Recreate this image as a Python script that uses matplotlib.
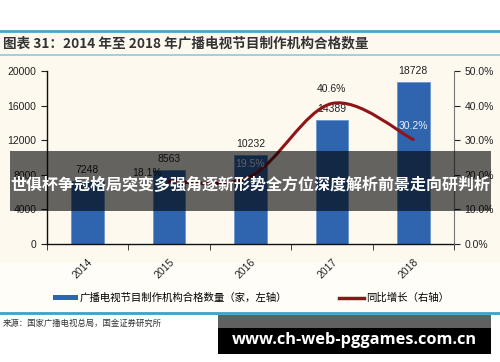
import matplotlib.pyplot as plt
from matplotlib.patches import Rectangle, Patch
from matplotlib.lines import Line2D
from matplotlib.path import Path
from matplotlib.patches import PathPatch

plt.rcParams['font.family'] = ['Liberation Sans', 'Noto Sans CJK SC', 'DejaVu Sans']

years = ['2014', '2015', '2016', '2017', '2018']
counts = [7248, 8563, 10232, 14389, 18728]
growth_years = ['2015', '2016', '2017', '2018']
growth = [18.1, 19.5, 40.6, 30.2]
left_ticks = [0, 4000, 8000, 12000, 16000, 20000]
right_ticks = [0, 10, 20, 30, 40, 50]

title_text = '图表 31：2014 年至 2018 年广播电视节目制作机构合格数量'
bar_name = '广播电视节目制作机构合格数量（家，左轴）'
line_name = '同比增长（右轴）'
source_text = '来源：国家广播电视总局，国金证券研究所'
banner_text = '世俱杯争冠格局突变多强角逐新形势全方位深度解析前景走向研判析'
mark_text = 'www.ch-web-pggames.com.cn'

W, H = 500, 362
cream = '#fdf9ef'
bar_blue = '#2f64ae'
red = '#8e1418'

fig = plt.figure(figsize=(5, 3.62), dpi=100, facecolor='white')

def fy(py):
    return 1 - py / H

# background and header/footer bands
fig.patches.append(Rectangle((0, fy(313)), 1, fy(31) - fy(313), transform=fig.transFigure,
                             facecolor=cream, edgecolor='none', zorder=-5))
fig.patches.append(Rectangle((0, fy(313)), 1, 50 / H, transform=fig.transFigure,
                             facecolor='#fffdf8', edgecolor='none', zorder=-5))
for py, lw, c in [(31, 2.0, '#4aa6cc'), (54.5, 1.2, '#8ccbe0'), (313, 2.0, '#3f9fcf')]:
    fig.add_artist(Line2D([0, 1], [fy(py), fy(py)], transform=fig.transFigure,
                          color=c, linewidth=lw, zorder=1))

fig.text(3 / W, fy(43), title_text, fontsize=9.8, fontweight='bold', color='#333333',
         family=['Noto Sans CJK SC', 'DejaVu Sans'], va='center', ha='left')
fig.text(3 / W, fy(323), source_text, fontsize=6, color='#333333',
         family=['Noto Sans CJK SC', 'DejaVu Sans'], va='center', ha='left')

ax = fig.add_axes([46.7 / W, fy(244), (454 - 46.7) / W, (244 - 71) / H])
ax.set_facecolor('none')
x = list(range(len(years)))
bars = ax.bar(x, counts, width=0.4, color=bar_blue, edgecolor='#6b95cf', linewidth=0.6, zorder=2)
ax.set_xlim(-0.5, len(years) - 0.5)
ax.set_ylim(0, 20000)
ax.set_yticks(left_ticks)
ax.set_yticklabels([str(t) for t in left_ticks])
ax.set_xticks(x)
ax.set_xticklabels(years, rotation=45, ha='right', rotation_mode='anchor')
ax.set_xticks([i - 0.5 for i in range(len(years) + 1)], minor=True)
ax.tick_params(axis='x', which='major', length=0, pad=9, labelsize=7.5, colors='#222222')
ax.tick_params(axis='x', which='minor', length=4, direction='out', color='#222222')
ax.tick_params(axis='y', length=4, labelsize=7.5, colors='#222222')
ax.spines['top'].set_visible(False)
ax.spines['right'].set_visible(False)
for s in ['left', 'bottom']:
    ax.spines[s].set_color('#111111')
    ax.spines[s].set_linewidth(1.0)

for xi, v in zip(x, counts):
    ax.annotate(str(v), (xi, v), xytext=(0, 11), textcoords='offset pixels',
                ha='center', va='center', fontsize=7.5, color='#222222')

ax2 = ax.twinx()
ax2.set_ylim(0, 50)
ax2.set_yticks(right_ticks)
ax2.set_yticklabels(['%.1f%%' % t for t in right_ticks])
ax2.tick_params(axis='y', length=4, labelsize=7.5, colors='#222222')
for s in ['top', 'left', 'bottom']:
    ax2.spines[s].set_visible(False)
ax2.spines['right'].set_color('#777777')

# smoothed growth line (Bezier through the data points)
gx = [years.index(y) for y in growth_years]
pts = list(zip(gx, growth))
verts = [pts[0]]
codes = [Path.MOVETO]
for i in range(len(pts) - 1):
    p0 = pts[i - 1] if i > 0 else pts[i]
    p1 = pts[i]
    p2 = pts[i + 1]
    p3 = pts[i + 2] if i + 2 < len(pts) else pts[i + 1]
    c1 = (p1[0] + (p2[0] - p0[0]) / 6, p1[1] + (p2[1] - p0[1]) / 6)
    c2 = (p2[0] - (p3[0] - p1[0]) / 6, p2[1] - (p3[1] - p1[1]) / 6)
    verts += [c1, c2, p2]
    codes += [Path.CURVE4] * 3
ax2.add_patch(PathPatch(Path(verts, codes), facecolor='none', edgecolor=red,
                        linewidth=2.2, capstyle='round', zorder=3))

offsets = [(-22, 8), (0, 13), (0, 15), (0, 14)]
label_colors = ['#222222', '#e8eef8', '#222222', '#e8eef8']
for xi, v, off, c in zip(gx, growth, offsets, label_colors):
    ax2.annotate('%.1f%%' % v, (xi, v), xytext=off, textcoords='offset pixels',
                 ha='center', va='center', fontsize=7.5, color=c)

handles = [Patch(facecolor=bar_blue, edgecolor='none'),
           Line2D([0], [0], color=red, linewidth=2.5)]
fig.legend(handles, [bar_name, line_name], loc='center', bbox_to_anchor=(251 / W, fy(298)),
           ncol=2, frameon=False, handlelength=2.4, handleheight=0.45,
           handletextpad=0.15, columnspacing=5.0,
           prop={'family': ['Noto Sans CJK SC', 'DejaVu Sans'], 'size': 7.5})

# overlay banner
fig.patches.append(Rectangle((10 / W, fy(211)), 481 / W, 60 / H, transform=fig.transFigure,
                             facecolor='black', alpha=0.6, edgecolor='none', zorder=10))
fig.text(250 / W, fy(184), banner_text, fontsize=11.5, fontweight='bold', color='white',
         family=['Noto Sans CJK SC', 'DejaVu Sans'], ha='center', va='center', zorder=11)

# watermark box
fig.patches.append(Rectangle((218 / W, fy(328)), 273 / W, 13 / H, transform=fig.transFigure,
                             facecolor='#606060', edgecolor='none', zorder=10))
fig.patches.append(Rectangle((218 / W, fy(354)), 273 / W, 26 / H, transform=fig.transFigure,
                             facecolor='black', edgecolor='none', zorder=10))
fig.text(354 / W, fy(340), mark_text, fontsize=11.8, fontweight='bold', color='white',
         family=['Open Sans', 'DejaVu Sans'], ha='center', va='center', zorder=11)

fig.savefig('out.png', dpi=100, facecolor=fig.get_facecolor())
